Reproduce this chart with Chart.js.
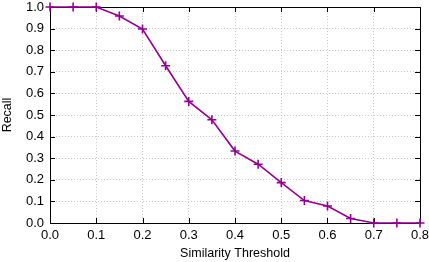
<!DOCTYPE html>
<html>
<head>
<meta charset="utf-8">
<script src="https://cdn.jsdelivr.net/npm/chart.js@4.4.1/dist/chart.umd.min.js"></script>
<style>
html,body{margin:0;padding:0;background:#fff;}
#wrap{width:429px;height:262px;position:relative;}
</style>
</head>
<body>
<div id="wrap"><canvas id="c" width="429" height="262"></canvas></div>
<script>
const thresholds = [0.0, 0.05, 0.1, 0.15, 0.2, 0.25, 0.3, 0.35, 0.4, 0.45, 0.5, 0.55, 0.6, 0.65, 0.7, 0.75, 0.8];
const recall = [1.0, 1.0, 1.0, 0.958, 0.898, 0.728, 0.563, 0.478, 0.333, 0.272, 0.187, 0.104, 0.079, 0.021, 0.0, 0.0, 0.0];
const xTitle = 'Similarity Threshold';
const yTitle = 'Recall';
const lineColor = '#940094';

const points = thresholds.map((x, i) => ({x: x, y: recall[i]}));
const FONT = 'Liberation Sans, Arial, Helvetica, sans-serif';

const framePlugin = {
  id: 'frame',
  beforeDatasetsDraw(chart) {
    const {ctx, chartArea: a, scales} = chart;
    ctx.save();
    ctx.strokeStyle = '#000';
    ctx.lineWidth = 1;
    const L = 5;
    ctx.beginPath();
    scales.x.ticks.forEach(t => {
      const px = Math.round(scales.x.getPixelForValue(t.value)) + 0.5;
      ctx.moveTo(px, a.bottom); ctx.lineTo(px, a.bottom - L);
      ctx.moveTo(px, a.top); ctx.lineTo(px, a.top + L);
    });
    scales.y.ticks.forEach(t => {
      const py = Math.round(scales.y.getPixelForValue(t.value)) + 0.5;
      ctx.moveTo(a.left, py); ctx.lineTo(a.left + L, py);
      ctx.moveTo(a.right, py); ctx.lineTo(a.right - L, py);
    });
    ctx.stroke();
    ctx.strokeRect(Math.round(a.left) + 0.5, Math.round(a.top) + 0.5, Math.round(a.right - a.left), Math.round(a.bottom - a.top));
    ctx.restore();
  }
};

new Chart(document.getElementById('c'), {
  type: 'line',
  data: {
    datasets: [{
      data: points,
      borderColor: lineColor,
      backgroundColor: lineColor,
      borderWidth: 1.6,
      pointStyle: 'cross',
      pointRadius: 4.5,
      pointBorderWidth: 1.6,
      pointBorderColor: lineColor,
      tension: 0,
      clip: false
    }]
  },
  options: {
    responsive: false,
    animation: false,
    devicePixelRatio: 1,
    layout: {padding: {top: 7, right: 9, left: 0, bottom: 0}},
    plugins: {legend: {display: false}, tooltip: {enabled: false}},
    scales: {
      x: {
        type: 'linear',
        min: 0, max: 0.8,
        grid: {display: true, drawTicks: false, color: '#c8c8c8', lineWidth: 1},
        border: {display: false, dash: [1, 2]},
        ticks: {stepSize: 0.1, padding: 5, color: '#000', font: {family: FONT, size: 13},
          maxRotation: 0, callback: v => v.toFixed(1)},
        title: {display: true, text: xTitle, color: '#000', font: {family: FONT, size: 12.5}, padding: {top: 0, bottom: 0.5}},
        afterFit: s => { s.height = 39; s.paddingLeft = 0; s.paddingRight = 0; }
      },
      y: {
        min: 0, max: 1.0,
        grid: {display: true, drawTicks: false, color: '#c8c8c8', lineWidth: 1},
        border: {display: false, dash: [1, 2]},
        ticks: {stepSize: 0.1, padding: 6, color: '#000', font: {family: FONT, size: 13},
          callback: v => v.toFixed(1)},
        title: {display: true, text: yTitle, color: '#000', font: {family: FONT, size: 12.5}, padding: {top: 0.5, bottom: 0}},
        afterFit: s => { s.width = 50; s.paddingTop = 0; s.paddingBottom = 0; }
      }
    }
  },
  plugins: [framePlugin]
});
</script>
</body>
</html>
